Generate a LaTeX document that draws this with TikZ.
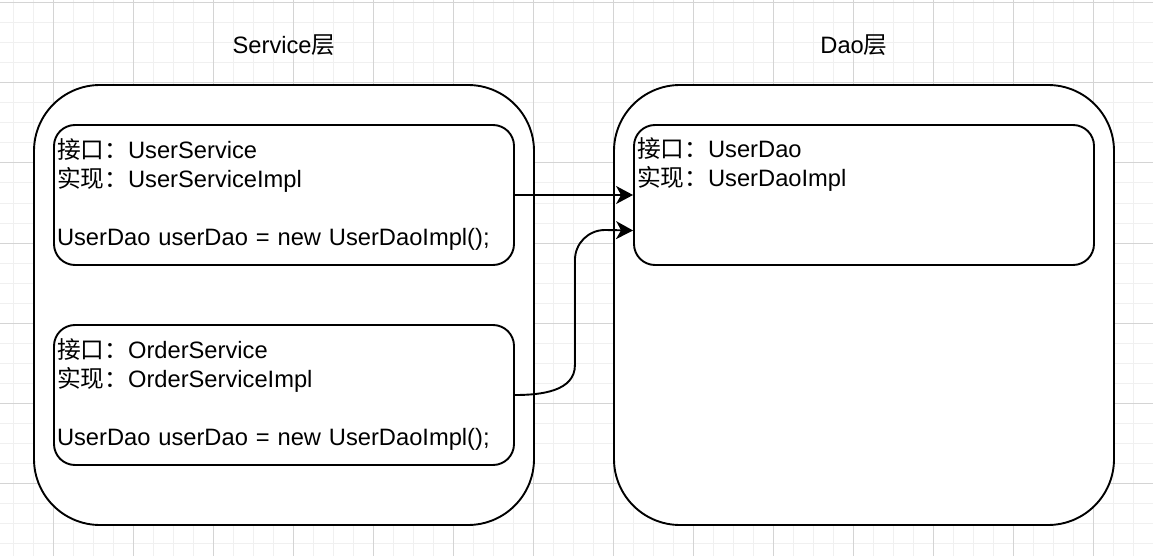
\documentclass[tikz,border=0pt]{standalone}
\usepackage{fontspec}
\setmainfont{Liberation Sans}
\newfontfamily\cjk{Noto Sans CJK SC}
\usetikzlibrary{arrows.meta, positioning, calc}
\definecolor{gridminor}{HTML}{F0F0F0}
\definecolor{gridmajor}{HTML}{D4D4D4}

\begin{document}
\begin{tikzpicture}[x=1pt, y=-1pt,
    layer/.style={draw, line width=1.9pt, fill=white, rounded corners=66pt,
      minimum width=500pt, minimum height=440pt},
    cls/.style={draw, line width=1.9pt, fill=white, rounded corners=21pt,
      minimum width=460pt, minimum height=140pt, text width=454pt,
      inner sep=3pt, align=left, font=\fontsize{23.7}{29}\selectfont},
    title/.style={font=\fontsize{23.7}{29}\selectfont},
    link/.style={line width=1.9pt, -{Stealth[length=17pt, width=18pt, inset=5pt]}}]
    \useasboundingbox (0,0) rectangle (1153,556);
    % grid
    \foreach \x in {13,33,...,1153} \draw[gridminor, line width=1pt] (\x,0) -- (\x,556);
    \foreach \y in {3,23,...,553} \draw[gridminor, line width=1pt] (0,\y) -- (1153,\y);
    \foreach \x in {53,133,...,1133} \draw[gridmajor, line width=1pt] (\x,0) -- (\x,556);
    \foreach \y in {3,83,...,483} \draw[gridmajor, line width=1pt] (0,\y) -- (1153,\y);

    % layers
    \node[layer] (svc) at (284,305) {};
    \node[layer] (dao) at (864,305) {};
    \node[title] (svct) at (284,45) {Service{\cjk 层}};
    \node[title] (daot) at (854,45) {Dao{\cjk 层}};

    % classes
    \node[cls] (us) at (284,195) {{\cjk 接口：}UserService\\{\cjk 实现：}UserServiceImpl\\[29pt]UserDao userDao = new UserDaoImpl();};
    \node[cls] (os) at (284,395) {{\cjk 接口：}OrderService\\{\cjk 实现：}OrderServiceImpl\\[29pt]UserDao userDao = new UserDaoImpl();};
    \node[cls] (ud) at (864,195) {{\cjk 接口：}UserDao\\{\cjk 实现：}UserDaoImpl\\[29pt]\strut};

    % links
    \coordinate (udin) at ($(ud.north west)!0.75!(ud.south west)$);
    \draw[link] (us.east) -- (ud.west);
    \draw[link] (os.east) to[out=0, in=-90] ++(60,-30) -- ++(0,-105)
      to[out=90, in=180] ++(30,-30) -- (udin);
\end{tikzpicture}
\end{document}
